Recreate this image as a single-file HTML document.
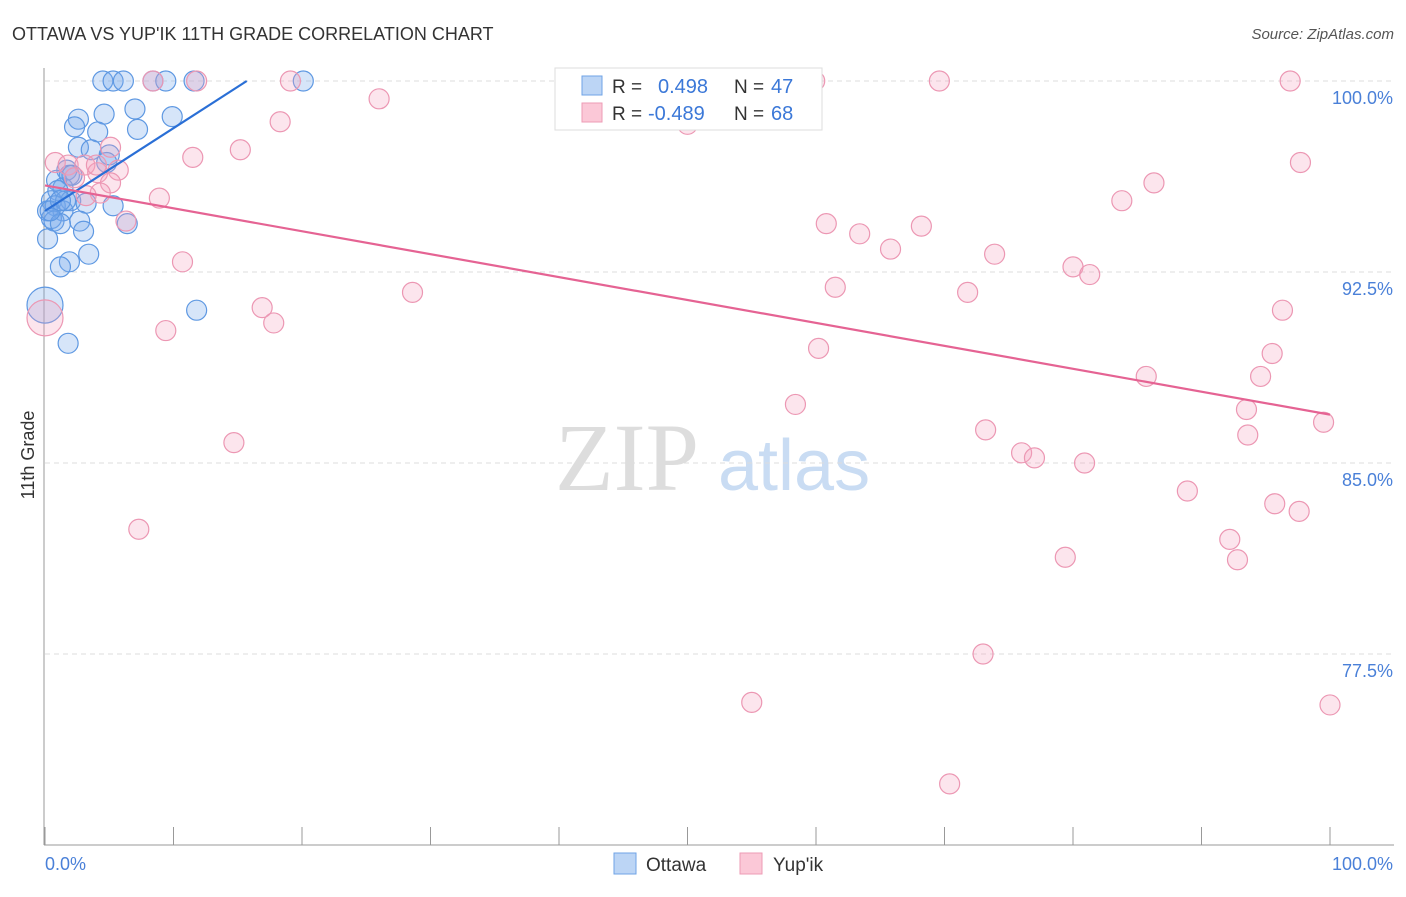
<!DOCTYPE html>
<html><head><meta charset="utf-8"><style>
body{margin:0;background:#fff;font-family:"Liberation Sans",sans-serif}
svg text{font-family:"Liberation Sans",sans-serif}
</style></head><body>
<svg id="chart" width="1406" height="892" xmlns="http://www.w3.org/2000/svg">
<text x="12" y="40" font-size="18" fill="#333">OTTAWA VS YUP'IK 11TH GRADE CORRELATION CHART</text>
<text x="1394" y="39" font-size="15" fill="#555" font-style="italic" text-anchor="end">Source: ZipAtlas.com</text>
<text x="555" y="490" font-size="96" fill="#ddd" font-family="Liberation Serif" style="font-family:'Liberation Serif',serif">ZIP</text>
<text x="718" y="490" font-size="72" fill="#c9dcf3">atlas</text>
<g id="grid"></g>
<g id="axes"></g>
<g id="pts"></g>
<g id="trend"></g>
<text transform="translate(34,455) rotate(-90)" font-size="18" fill="#333" text-anchor="middle">11th Grade</text>
<text x="45" y="870" font-size="18" fill="#4a80d8">0.0%</text>
<text x="1393" y="870" font-size="18" fill="#4a80d8" text-anchor="end">100.0%</text>
<g>
<rect x="555" y="68" width="267" height="62" fill="#fff" stroke="#ddd"/>
<rect x="582" y="76" width="20" height="19" fill="#bcd5f5" stroke="#6fa3e6"/>
<rect x="582" y="103" width="20" height="19" fill="#fbc8d7" stroke="#ee9bb5"/>
<text x="612" y="93" font-size="19" fill="#333">R = </text><text x="658" y="93" font-size="20" fill="#3b78d8">0.498</text>
<text x="734" y="93" font-size="19" fill="#333">N = </text><text x="771" y="93" font-size="20" fill="#3b78d8">47</text>
<text x="612" y="120" font-size="19" fill="#333">R = </text><text x="648" y="120" font-size="20" fill="#3b78d8">-0.489</text>
<text x="734" y="120" font-size="19" fill="#333">N = </text><text x="771" y="120" font-size="20" fill="#3b78d8">68</text>
</g>
<g>
<rect x="614" y="853" width="22" height="21" fill="#bcd5f5" stroke="#6fa3e6"/>
<text x="646" y="871" font-size="19" fill="#333">Ottawa</text>
<rect x="740" y="853" width="22" height="21" fill="#fbc8d7" stroke="#ee9bb5"/>
<text x="773" y="871" font-size="19" fill="#333">Yup'ik</text>
</g>
</svg>
<script>
const yTicks=[100,92.5,85,77.5];
const yTickLabels=["100.0%","92.5%","85.0%","77.5%"];
const xTicks=[0,10,20,30,40,50,60,70,80,90,100];
const ottawaX=[4.5,5.3,6.1,8.4,9.4,11.6,20.1,7.0,4.6,2.6,9.9,2.3,4.1,7.2,2.6,3.6,5.0,4.8,1.7,1.9,0.9,1.4,1.0,0.5,2.0,3.2,5.3,0.8,0.2,1.4,0.5,2.7,0.7,6.4,1.2,3.0,0.2,3.4,1.9,1.2,11.8,1.8,0,0.4,1.6,2.1,1.2];
const ottawaY=[100,100,100,100,100,100,100,98.9,98.7,98.5,98.6,98.2,98.0,98.1,97.4,97.3,97.1,96.8,96.5,96.3,96.1,95.8,95.7,95.3,95.3,95.2,95.1,95.1,94.9,94.9,94.6,94.5,94.5,94.4,94.4,94.1,93.8,93.2,92.9,92.7,91.0,89.7,91.2,94.9,95.3,96.3,95.3];
const yupikX=[8.4,11.8,19.1,41.5,59.9,69.6,96.9,26.0,18.3,50.0,5.1,15.2,11.5,0.8,1.8,3.1,97.7,4.1,5.7,2.3,5.1,86.3,4.3,8.9,83.8,6.3,60.8,68.2,63.4,65.8,73.9,10.7,80.0,81.3,61.5,28.6,71.8,16.9,96.3,17.8,9.4,0,60.2,95.5,85.7,94.6,58.4,93.5,99.5,73.2,93.6,14.7,76.0,77.0,80.9,88.9,95.7,97.6,7.3,92.2,79.4,92.8,73.0,55.0,100,70.4,4.0,3.2];
const yupikY=[100,100,100,100,100,100,100,99.3,98.4,98.3,97.4,97.3,97.0,96.8,96.7,96.7,96.8,96.4,96.5,96.2,96.0,96.0,95.6,95.4,95.3,94.5,94.4,94.3,94.0,93.4,93.2,92.9,92.7,92.4,91.9,91.7,91.7,91.1,91.0,90.5,90.2,90.7,89.5,89.3,88.4,88.4,87.3,87.1,86.6,86.3,86.1,85.8,85.4,85.2,85.0,83.9,83.4,83.1,82.4,82.0,81.3,81.2,77.5,75.6,75.5,72.4,96.7,95.5];
const ottawaR=ottawaX.map((v,i)=>i===42?18:10);
const yupikR=yupikX.map((v,i)=>i===41?18:10);
const ottawaTrend=[[0,94.9],[15.7,100]];
const yupikTrend=[[0,95.9],[100,86.9]];
const NS="http://www.w3.org/2000/svg";
const xs=v=>45+v*12.85;
const ys=v=>81+(100-v)*191/7.5;
function mk(t,a,p){const e=document.createElementNS(NS,t);for(const k in a)e.setAttribute(k,a[k]);p.appendChild(e);return e;}
const grid=document.getElementById('grid'),axes=document.getElementById('axes'),pts=document.getElementById('pts'),tr=document.getElementById('trend');
yTicks.forEach((t,i)=>{
 const l=mk('line',{x1:45,x2:1394,y1:ys(t),y2:ys(t),stroke:'#ddd','stroke-dasharray':'5,4'},grid);
 
 
 const tx=mk('text',{x:1393,y:ys(t)+23,'font-size':18,fill:'#4a80d8','text-anchor':'end'},grid);
 tx.textContent=yTickLabels[i];
 
 
});
const ya=mk('line',{x1:44,x2:44,y1:68,y2:845,stroke:'#999'},axes);


const xa=mk('line',{x1:44,x2:1394,y1:845,y2:845,stroke:'#999'},axes);


xTicks.forEach(t=>{
 const l=mk('line',{x1:xs(t),x2:xs(t),y1:827,y2:845,stroke:'#999'},axes);
 
 
});
ottawaX.forEach((x,i)=>{
 const c=mk('circle',{cx:xs(x),cy:ys(ottawaY[i]),r:ottawaR[i],fill:'rgba(120,170,235,0.3)',stroke:'#5e98e2','stroke-width':1.2},pts);
 
 
});
yupikX.forEach((x,i)=>{
 const c=mk('circle',{cx:xs(x),cy:ys(yupikY[i]),r:yupikR[i],fill:'rgba(245,160,190,0.28)',stroke:'#ec97b3','stroke-width':1.2},pts);
 
 
});
const t1=mk('line',{x1:xs(ottawaTrend[0][0]),y1:ys(ottawaTrend[0][1]),x2:xs(ottawaTrend[1][0]),y2:ys(ottawaTrend[1][1]),stroke:'#2a6fd6','stroke-width':2.2},tr);


const t2=mk('line',{x1:xs(yupikTrend[0][0]),y1:ys(yupikTrend[0][1]),x2:xs(yupikTrend[1][0]),y2:ys(yupikTrend[1][1]),stroke:'#e56393','stroke-width':2.2},tr);


</script>
</body></html>
